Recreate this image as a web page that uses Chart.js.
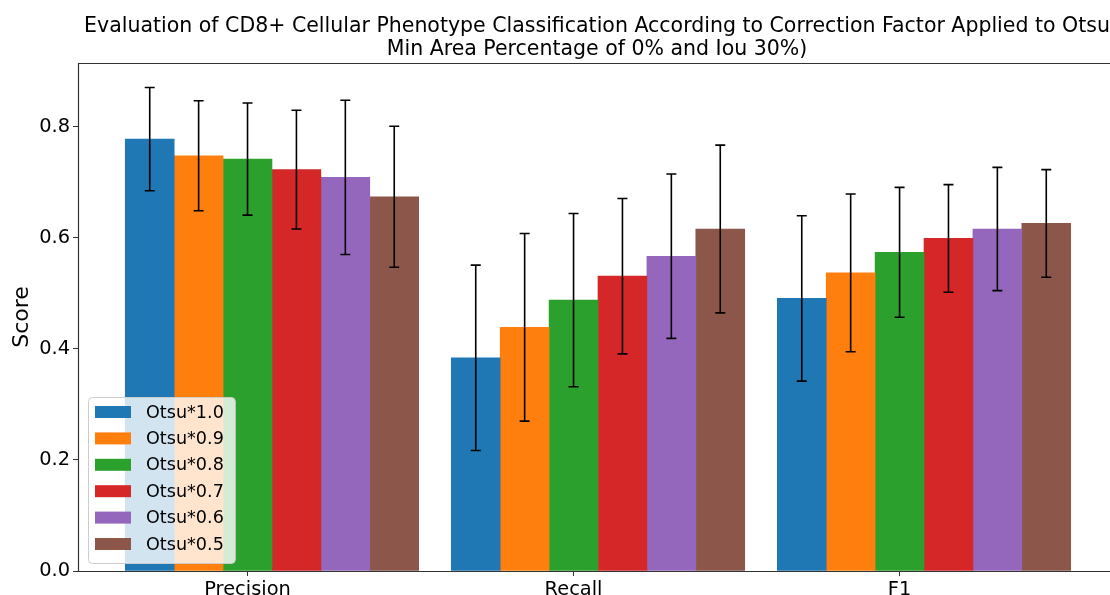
<!DOCTYPE html>
<html lang="en">
<head>
  <meta charset="UTF-8">
  <title>CD8+ Phenotype Classification</title>
  <script src="https://cdn.jsdelivr.net/npm/chart.js"></script>
  <style>
    html, body {
      margin: 0;
      padding: 0;
      background: #fff;
      overflow: hidden;
    }
    canvas {
      display: block;
    }
  </style>
</head>
<body>
  <canvas id="scoreChart" width="1140" height="595"></canvas>

  <script>
    const metrics = ['Precision', 'Recall', 'F1'];
    const seriesNames = ['Otsu*1.0', 'Otsu*0.9', 'Otsu*0.8', 'Otsu*0.7', 'Otsu*0.6', 'Otsu*0.5'];
    const seriesColors = ['#1f77b4', '#ff7f0e', '#2ca02c', '#d62728', '#9467bd', '#8c564b'];

    // mean score per metric (Precision, Recall, F1)
    const otsu10 = [0.778, 0.384, 0.491];
    const otsu09 = [0.748, 0.439, 0.537];
    const otsu08 = [0.742, 0.488, 0.574];
    const otsu07 = [0.723, 0.531, 0.599];
    const otsu06 = [0.709, 0.567, 0.616];
    const otsu05 = [0.674, 0.616, 0.626];

    // standard deviation per metric
    const otsu10Err = [0.093, 0.167, 0.149];
    const otsu09Err = [0.099, 0.169, 0.142];
    const otsu08Err = [0.101, 0.156, 0.117];
    const otsu07Err = [0.107, 0.140, 0.097];
    const otsu06Err = [0.139, 0.148, 0.111];
    const otsu05Err = [0.127, 0.151, 0.097];

    const yTicks = [0.0, 0.2, 0.4, 0.6, 0.8];

    const means = [otsu10, otsu09, otsu08, otsu07, otsu06, otsu05];
    const errors = [otsu10Err, otsu09Err, otsu08Err, otsu07Err, otsu06Err, otsu05Err];

    const titleLines = [
      'Evaluation of CD8+ Cellular Phenotype Classification According to Correction Factor Applied to Otsu',
      'Min Area Percentage of 0% and Iou 30%)'
    ];

    const FONT = "'DejaVu Sans', sans-serif";
    const barWidth = 0.15;

    // bars sit at metric index + offset, the metric tick lands on the third bar
    const datasets = means.map((vals, j) => ({
      label: seriesNames[j],
      data: vals.map((v, i) => ({ x: i + (j - 2) * barWidth, y: v })),
      backgroundColor: seriesColors[j],
      borderWidth: 0,
      grouped: false,
      categoryPercentage: 1,
      barPercentage: 1
    }));

    const decorPlugin = {
      id: 'decor',
      afterDatasetsDraw(chart) {
        const ctx = chart.ctx;
        const area = chart.chartArea;
        const yScale = chart.scales.y;

        // axes spines: top, left, bottom (right one falls outside the view)
        ctx.save();
        ctx.strokeStyle = '#333';
        ctx.lineWidth = 1.2;
        ctx.beginPath();
        ctx.moveTo(area.right, area.top + 0.5);
        ctx.lineTo(area.left + 0.5, area.top + 0.5);
        ctx.lineTo(area.left + 0.5, area.bottom + 0.5);
        ctx.lineTo(area.right, area.bottom + 0.5);
        ctx.stroke();
        ctx.restore();

        // error bars
        ctx.save();
        ctx.strokeStyle = '#000';
        ctx.lineWidth = 1.6;
        chart.data.datasets.forEach((ds, j) => {
          const meta = chart.getDatasetMeta(j);
          meta.data.forEach((bar, i) => {
            const m = means[j][i];
            const e = errors[j][i];
            const x = bar.x;
            const yTop = yScale.getPixelForValue(m + e);
            const yBot = yScale.getPixelForValue(m - e);
            ctx.beginPath();
            ctx.moveTo(x, yTop);
            ctx.lineTo(x, yBot);
            ctx.moveTo(x - 5, yTop);
            ctx.lineTo(x + 5, yTop);
            ctx.moveTo(x - 5, yBot);
            ctx.lineTo(x + 5, yBot);
            ctx.stroke();
          });
        });
        ctx.restore();
      },
      afterDraw(chart) {
        const ctx = chart.ctx;
        const area = chart.chartArea;

        // title
        ctx.save();
        ctx.fillStyle = '#000';
        ctx.font = '20.5px ' + FONT;
        ctx.textAlign = 'center';
        ctx.textBaseline = 'alphabetic';
        const cx = (area.left + area.right) / 2;
        ctx.fillText(titleLines[0], cx - 1, 32);
        ctx.fillText(titleLines[1], cx - 1, 55);
        ctx.restore();

        // y axis label
        ctx.save();
        ctx.fillStyle = '#000';
        ctx.font = '22px ' + FONT;
        ctx.translate(22, (area.top + area.bottom) / 2);
        ctx.rotate(-Math.PI / 2);
        ctx.textAlign = 'center';
        ctx.textBaseline = 'middle';
        ctx.fillText('Score', 0, 0);
        ctx.restore();

        // legend, lower left inside the axes
        ctx.save();
        ctx.font = '17.6px ' + FONT;
        const rowH = 26.4;
        const swatchW = 36;
        const swatchH = 12;
        const textW = Math.max(...seriesNames.map(n => ctx.measureText(n).width));
        const boxW = 7 + swatchW + 15 + textW + 11;
        const boxH = 166;
        const bx = area.left + 10;
        const by = area.bottom - 8 - boxH;
        ctx.fillStyle = 'rgba(255,255,255,0.8)';
        ctx.strokeStyle = '#cccccc';
        ctx.lineWidth = 1;
        ctx.beginPath();
        ctx.roundRect(bx + 0.5, by + 0.5, boxW, boxH, 4);
        ctx.fill();
        ctx.stroke();
        ctx.textBaseline = 'middle';
        ctx.textAlign = 'left';
        seriesNames.forEach((name, j) => {
          const rowY = by + 15 + j * rowH;
          ctx.fillStyle = seriesColors[j];
          ctx.fillRect(bx + 7, rowY - swatchH / 2, swatchW, swatchH);
          ctx.fillStyle = '#000';
          ctx.fillText(name, bx + 7 + swatchW + 15, rowY + 1);
        });
        ctx.restore();
      }
    };

    new Chart(document.getElementById('scoreChart'), {
      type: 'bar',
      data: { datasets: datasets },
      options: {
        responsive: false,
        animation: false,
        layout: { padding: { top: 63, right: 22, left: 0, bottom: 0 } },
        plugins: {
          legend: { display: false },
          title: { display: false },
          tooltip: { enabled: false }
        },
        scales: {
          x: {
            type: 'linear',
            min: -0.52,
            max: 2.67,
            offset: false,
            border: { display: false },
            grid: {
              offset: false,
              drawOnChartArea: false,
              drawTicks: true,
              tickLength: 5,
              color: '#333'
            },
            afterBuildTicks(scale) {
              scale.ticks = metrics.map((m, i) => ({ value: i }));
            },
            ticks: {
              padding: 2,
              maxRotation: 0,
              color: '#000',
              font: { family: FONT, size: 19.4 },
              callback: (v) => metrics[v]
            },
            afterFit(scale) { scale.height = 24; }
          },
          y: {
            min: 0,
            max: 0.915,
            border: { display: false },
            grid: {
              drawOnChartArea: false,
              drawTicks: true,
              tickLength: 5,
              color: '#333'
            },
            afterBuildTicks(scale) {
              scale.ticks = yTicks.map(v => ({ value: v }));
            },
            ticks: {
              padding: 3,
              color: '#000',
              font: { family: FONT, size: 19.4 },
              callback: (v) => Number(v).toFixed(1)
            },
            afterFit(scale) { scale.width = 78; }
          }
        }
      },
      plugins: [decorPlugin]
    });
  </script>
</body>
</html>
